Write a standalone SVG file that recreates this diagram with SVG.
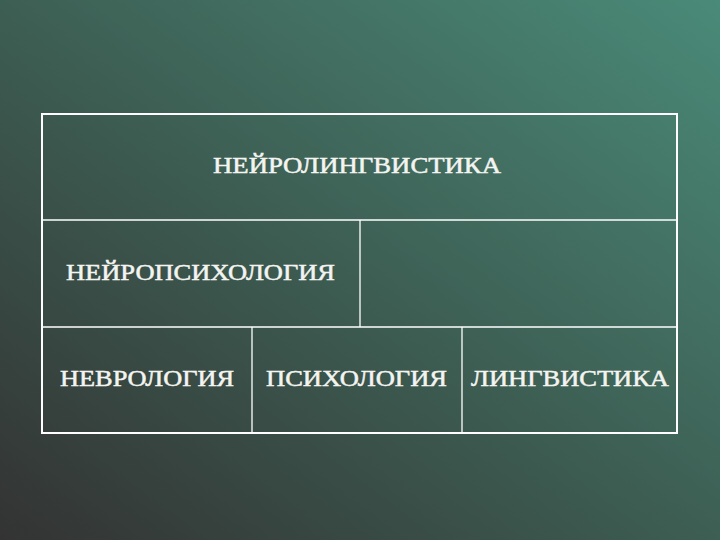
<svg xmlns="http://www.w3.org/2000/svg" width="720" height="540" viewBox="0 0 720 540">
<defs>
<linearGradient id="bg" x1="0" y1="1" x2="1" y2="0">
<stop offset="0" stop-color="#333333"/>
<stop offset="0.45" stop-color="#3c5a50"/>
<stop offset="1" stop-color="#4a8a78"/>
</linearGradient>
<style>
.t{font-family:"Liberation Serif","DejaVu Serif",serif;font-size:23px;fill:#f4f4f0;stroke:#f4f4f0;stroke-width:0.5;}
.outer{fill:none;stroke:#ffffff;stroke-width:2;}
.inner{stroke:#ffffff;stroke-width:1.3;}
</style>
</defs>
<rect width="720" height="540" fill="url(#bg)"/>
<g id="connectors">
<rect class="outer" x="42" y="114" width="635" height="319"/>
<line class="inner" x1="42" y1="220" x2="677" y2="220"/>
<line class="inner" x1="42" y1="327" x2="677" y2="327"/>
<line class="inner" x1="360" y1="220" x2="360" y2="327"/>
<line class="inner" x1="252" y1="327" x2="252" y2="433"/>
<line class="inner" x1="462" y1="327" x2="462" y2="433"/>
</g>
<g id="n1"><text class="t" x="213" y="173" textLength="288" lengthAdjust="spacingAndGlyphs">НЕЙРОЛИНГВИСТИКА</text></g>
<g id="n2"><text class="t" x="66" y="280" textLength="269" lengthAdjust="spacingAndGlyphs">НЕЙРОПСИХОЛОГИЯ</text></g>
<g id="n3"><text class="t" x="60" y="386" textLength="174" lengthAdjust="spacingAndGlyphs">НЕВРОЛОГИЯ</text></g>
<g id="n4"><text class="t" x="266" y="386" textLength="181" lengthAdjust="spacingAndGlyphs">ПСИХОЛОГИЯ</text></g>
<g id="n5"><text class="t" x="471" y="386" textLength="198" lengthAdjust="spacingAndGlyphs">ЛИНГВИСТИКА</text></g>
</svg>
